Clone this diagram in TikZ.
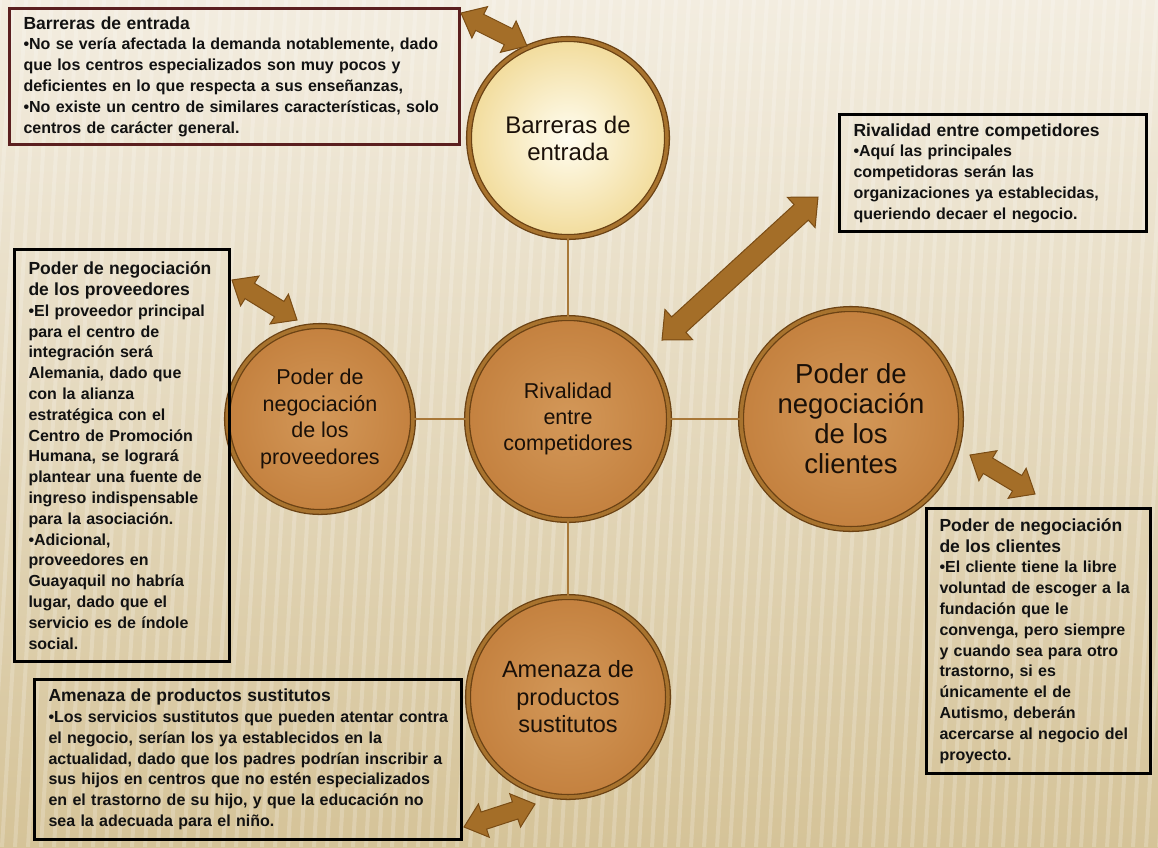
\documentclass[tikz,border=0pt]{standalone}
\usepackage{fontspec}
\setmainfont{Liberation Sans}
\newfontfamily\circfont{Liberation Sans}
\usetikzlibrary{shapes.arrows,calc}

\definecolor{bgtop}{HTML}{F3EDE0}
\definecolor{bgmid}{HTML}{E8DDC5}
\definecolor{bgbot}{HTML}{D5C398}
\definecolor{ochreIn}{HTML}{D39859}
\definecolor{ochreOut}{HTML}{C4813F}
\definecolor{ringdark}{HTML}{6B4214}
\definecolor{ringgold}{HTML}{A8732E}
\definecolor{paleIn}{HTML}{FFFDF0}
\definecolor{paleOut}{HTML}{F2DC9C}
\definecolor{arrowfill}{HTML}{A46E28}
\definecolor{arrowedge}{HTML}{7A4C15}
\definecolor{linkcol}{HTML}{A87838}
\definecolor{maroonb}{HTML}{5B1F1F}
\definecolor{boxtext}{HTML}{121212}
\definecolor{circtext}{HTML}{1A1008}

\newcommand\bt[1]{{\fontsize{17.5}{20.8}\selectfont #1}}
\newcommand\fatarr[4][]{%
  \path let \p1=(#3), \p2=(#4), \n1={atan2(\y2-\y1,\x2-\x1)}, \n2={veclen(\x2-\x1,\y2-\y1)} in
    node[fatarrow,#1,rotate=\n1,minimum height=\n2] (#2) at ($(#3)!0.5!(#4)$) {};}

\tikzset{
  coin/.style={circle, inner sep=0pt, align=center, draw=ringdark, line width=1.3pt,
    double=ringgold, double distance=3.5pt,
    shading=radial, inner color=ochreIn, outer color=ochreOut, text=circtext},
  palecoin/.style={inner color=paleIn, outer color=paleOut},
  link/.style={draw=linkcol, line width=1.8pt},
  infobox/.style={draw=black, line width=3pt, align=left, inner xsep=14pt, inner ysep=0pt,
    anchor=north west, text=boxtext, font=\fontsize{16}{20.8}\selectfont\bfseries},
  fatarrow/.style={shape=double arrow, fill=arrowfill, draw=arrowedge, line width=1pt,
    inner xsep=0pt, inner ysep=8.5pt, minimum width=0pt,
    double arrow head extend=8.5pt, double arrow tip angle=80},
  bigarrow/.style={inner ysep=10pt, double arrow head extend=10pt, double arrow tip angle=84}
}

\begin{document}
\begin{tikzpicture}[x=1pt,y=-1pt]
\useasboundingbox (0,0) rectangle (1158,847);
\shade[top color=bgtop, middle color=bgmid, bottom color=bgbot] (0,0) rectangle (1158,847);
\foreach \s in {0,13,...,1250} \draw[white, opacity=0.2, line width=4pt] (\s,0) -- (\s-50,847);

% circles
\node[coin, palecoin, minimum size=198pt, font=\circfont\fontsize{24}{27}\selectfont] (barr) at (568,138) {Barreras de\\entrada};
\node[coin, minimum size=202pt, font=\circfont\fontsize{21.5}{26}\selectfont] (riv) at (568,419) {Rivalidad\\entre\\competidores};
\node[coin, minimum size=186pt, font=\circfont\fontsize{21.5}{26.5}\selectfont] (prov) at (320,419) {Poder de\\negociación\\de los\\proveedores};
\node[coin, minimum size=220pt, font=\circfont\fontsize{27.5}{30}\selectfont] (cli) at (851,419) {Poder de\\negociación\\de los\\clientes};
\node[coin, minimum size=200pt, font=\circfont\fontsize{23.5}{27.5}\selectfont] (ame) at (568,697) {Amenaza de\\productos\\sustitutos};

% links
\draw[link] (barr.south) -- (riv.north);
\draw[link] (prov.east) -- (riv.west);
\draw[link] (riv.east) -- (cli.west);
\draw[link] (riv.south) -- (ame.north);

% boxes
\node[infobox, draw=maroonb, minimum width=450pt, minimum height=136pt, text width=422pt] (bBarr) at (8,7) {%
\bt{Barreras de entrada}\\
\mbox{•No se vería afectada la demanda notablemente, dado}\\
\mbox{que los centros especializados son muy pocos y}\\
\mbox{deficientes en lo que respecta a sus enseñanzas,}\\
\mbox{•No existe un centro de similares características, solo}\\
\mbox{centros de carácter general.}};

\node[infobox, minimum width=307pt, minimum height=117pt, text width=279pt] (bRiv) at (838,113) {%
\bt{Rivalidad entre competidores}\\
\mbox{•Aquí las principales}\\
\mbox{competidoras serán las}\\
\mbox{organizaciones ya establecidas,}\\
\mbox{queriendo decaer el negocio.}};

\node[infobox, minimum width=215pt, minimum height=412pt, text width=187pt] (bProv) at (13,248) {%
\bt{Poder de negociación}\\
\bt{de los proveedores}\\
\mbox{•El proveedor principal}\\
\mbox{para el centro de}\\
\mbox{integración será}\\
\mbox{Alemania, dado que}\\
\mbox{con la alianza}\\
\mbox{estratégica con el}\\
\mbox{Centro de Promoción}\\
\mbox{Humana, se logrará}\\
\mbox{plantear una fuente de}\\
\mbox{ingreso indispensable}\\
\mbox{para la asociación.}\\
\mbox{•Adicional,}\\
\mbox{proveedores en}\\
\mbox{Guayaquil no habría}\\
\mbox{lugar, dado que el}\\
\mbox{servicio es de índole}\\
\mbox{social.}};

\node[infobox, minimum width=224pt, minimum height=265pt, text width=198pt, inner xsep=13pt] (bCli) at (925,507) {%
\bt{Poder de negociación}\\
\bt{de los clientes}\\
\mbox{•El cliente tiene la libre}\\
\mbox{voluntad de escoger a la}\\
\mbox{fundación que le}\\
\mbox{convenga, pero siempre}\\
\mbox{y cuando sea para otro}\\
\mbox{trastorno, si es}\\
\mbox{únicamente el de}\\
\mbox{Autismo, deberán}\\
\mbox{acercarse al negocio del}\\
\mbox{proyecto.}};

\node[infobox, minimum width=427pt, minimum height=160pt, text width=399pt] (bAme) at (33,678) {%
\bt{Amenaza de productos sustitutos}\\
\mbox{•Los servicios sustitutos que pueden atentar contra}\\
\mbox{el negocio, serían los ya establecidos en la}\\
\mbox{actualidad, dado que los padres podrían inscribir a}\\
\mbox{sus hijos en centros que no estén especializados}\\
\mbox{en el trastorno de su hijo, y que la educación no}\\
\mbox{sea la adecuada para el niño.}};

% arrows
\coordinate (a1s) at (461,13);  \coordinate (a1e) at (527,46);
\coordinate (a2s) at (662,340); \coordinate (a2e) at (818,197);
\coordinate (a3s) at (232,280); \coordinate (a3e) at (297,320);
\coordinate (a4s) at (970,455); \coordinate (a4e) at (1035,494);
\coordinate (a5s) at (464,827); \coordinate (a5e) at (535,804);
\fatarr{arrA}{a1s}{a1e}
\fatarr[bigarrow]{arrB}{a2s}{a2e}
\fatarr{arrC}{a3s}{a3e}
\fatarr{arrD}{a4s}{a4e}
\fatarr{arrE}{a5s}{a5e}
\end{tikzpicture}
\end{document}
